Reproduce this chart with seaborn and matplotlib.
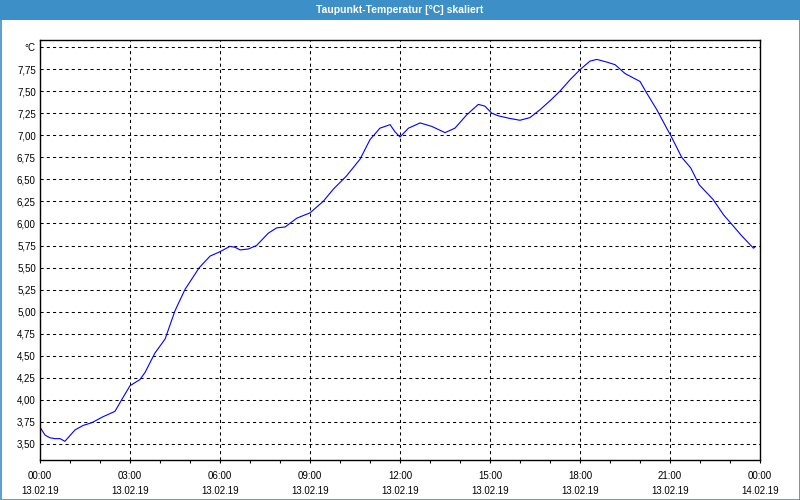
import matplotlib
matplotlib.use("Agg")
import matplotlib.pyplot as plt
import seaborn as sns
import pandas as pd
from matplotlib.patches import Rectangle
from matplotlib.ticker import MultipleLocator

# ---- data (hours since 13.02.19 00:00, dew point in °C) ----
hours = [0, 0.17, 0.33, 0.5, 0.67, 0.83, 1.17, 1.44, 1.72, 2.11, 2.5, 2.72, 3.0, 3.33, 3.5, 3.83, 4.17, 4.5, 4.83, 5.31,
         5.67, 6.0, 6.33, 6.5, 6.67, 6.94, 7.22, 7.61, 7.89, 8.17, 8.56, 9.0, 9.44, 9.78, 10.22, 10.67,
         11.0, 11.33, 11.67, 11.83, 12.0, 12.28, 12.67, 13.06, 13.5, 13.83, 14.22, 14.61, 14.83, 15.06, 15.28,
         15.67, 16.0, 16.33, 16.67, 17.06, 17.33, 17.67, 18.02, 18.33, 18.56, 18.89, 19.17, 19.5, 19.72, 20.0, 20.22, 20.56, 20.89,
         21.02, 21.39, 21.69, 21.97, 22.44, 22.78, 23.06, 23.39, 23.78, 23.83]
dewpoint = [3.69, 3.60, 3.57, 3.56, 3.56, 3.53, 3.66, 3.71, 3.74, 3.81, 3.87, 4.00, 4.16, 4.23, 4.31, 4.53, 4.69, 5.01, 5.25, 5.50,
            5.63, 5.68, 5.74, 5.73, 5.70, 5.71, 5.75, 5.89, 5.95, 5.96, 6.06, 6.12, 6.25, 6.39, 6.54, 6.73,
            6.95, 7.08, 7.12, 7.04, 6.98, 7.08, 7.14, 7.10, 7.03, 7.08, 7.23, 7.35, 7.33, 7.25, 7.22,
            7.19, 7.17, 7.20, 7.29, 7.41, 7.50, 7.63, 7.75, 7.84, 7.86, 7.83, 7.80, 7.70, 7.66, 7.61, 7.48, 7.29, 7.08,
            7.00, 6.75, 6.63, 6.44, 6.27, 6.10, 5.99, 5.86, 5.72, 5.73]

x_tick_hours = [0, 3, 6, 9, 12, 15, 18, 21, 24]
x_tick_times = ["00:00", "03:00", "06:00", "09:00", "12:00", "15:00", "18:00", "21:00", "00:00"]
x_tick_dates = ["13.02.19"] * 8 + ["14.02.19"]
y_tick_values = [3.50, 3.75, 4.00, 4.25, 4.50, 4.75, 5.00, 5.25, 5.50, 5.75, 6.00, 6.25, 6.50, 6.75, 7.00, 7.25, 7.50, 7.75, 8.00]
y_tick_labels = ["3,50", "3,75", "4,00", "4,25", "4,50", "4,75", "5,00", "5,25", "5,50", "5,75",
                 "6,00", "6,25", "6,50", "6,75", "7,00", "7,25", "7,50", "7,75", "°C"]
title = "Taupunkt-Temperatur [°C] skaliert"

df = pd.DataFrame({"h": hours, "v": dewpoint})

sns.set_style("white")
plt.rcParams["font.family"] = ["Liberation Sans", "DejaVu Sans"]

fig = plt.figure(figsize=(8, 5), dpi=100)
fig.patch.set_facecolor("white")

# title bar and border
bar_color = "#3d8fc7"
fig.patches.append(Rectangle((0, 480 / 500), 1, 20 / 500, transform=fig.transFigure,
                             facecolor=bar_color, edgecolor="none", zorder=0))
fig.patches.append(Rectangle((0.5 / 800, 0.5 / 500), 799 / 800, 499 / 500, transform=fig.transFigure,
                             facecolor="none", edgecolor=bar_color, lw=1.2, zorder=0))
fig.text(0.5, 490 / 500, title, color="white", ha="center", va="center", fontsize=7.5, fontweight="bold")

ax = fig.add_axes([40 / 800, 40 / 500, 720 / 800, 420 / 500])
ax.set_facecolor("white")
sns.lineplot(data=df, x="h", y="v", ax=ax, color="#0000ff", lw=0.8)

ax.set_xlim(0, 24)
ax.set_ylim(3.318, 8.08)
ax.set_xticks(x_tick_hours)
ax.set_xticklabels([f"{a}\n{b}" for a, b in zip(x_tick_times, x_tick_dates)], linespacing=1.6)
ax.xaxis.set_minor_locator(MultipleLocator(1))
ax.set_yticks(y_tick_values)
ax.set_yticklabels(y_tick_labels)
ax.set_xlabel("")
ax.set_ylabel("")

ax.tick_params(axis="x", which="both", direction="out", length=2.5, width=0.8, color="black",
               bottom=True, labelsize=7, pad=5.5)
ax.tick_params(axis="y", which="both", length=0, labelsize=7, pad=3)
for lab in ax.get_xticklabels() + ax.get_yticklabels():
    lab.set_color("black")

ax.grid(True, which="major", color="black", lw=0.75, linestyle=(0, (3, 3)))
ax.set_axisbelow(True)
for s in ax.spines.values():
    s.set_color("black")
    s.set_linewidth(1)
    s.set_visible(True)

fig.savefig("out.png", dpi=100)
